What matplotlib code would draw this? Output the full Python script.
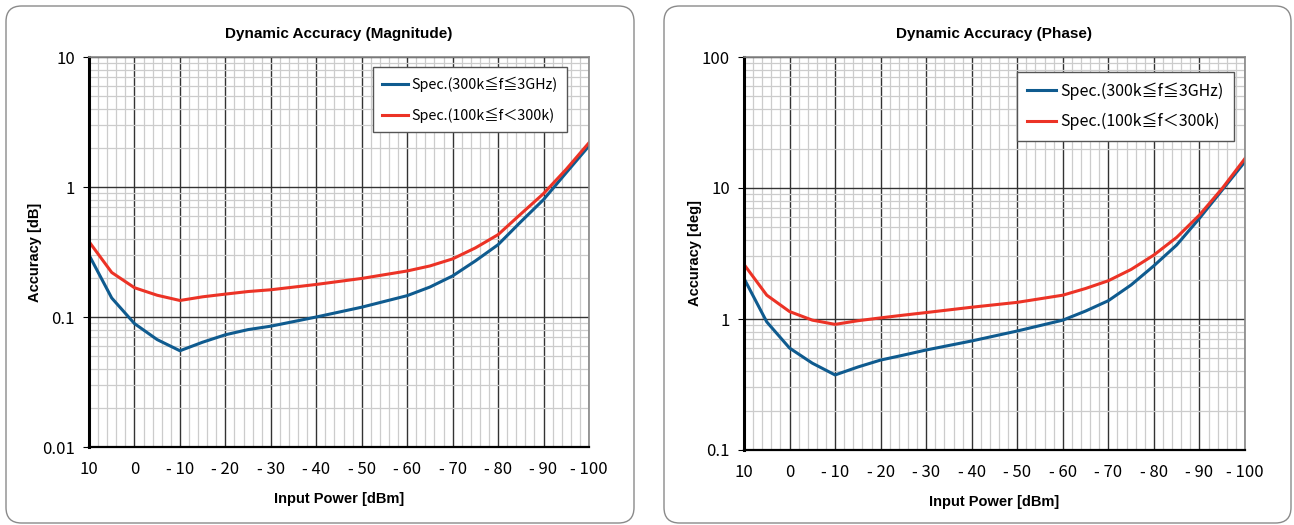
import matplotlib
matplotlib.use('Agg')
import matplotlib.pyplot as plt
from matplotlib.patches import FancyBboxPatch
from matplotlib.ticker import FixedLocator, NullFormatter

# Input power points [dBm]
power = [10, 5, 0, -5, -10, -15, -20, -25, -30, -40, -50, -60, -65, -70, -75, -80, -85, -90, -95, -100]

# Magnitude accuracy [dB]
mag_hi = [0.30, 0.14, 0.089, 0.067, 0.055, 0.064, 0.073, 0.080, 0.085, 0.100, 0.119, 0.146, 0.170, 0.207, 0.27, 0.36, 0.54, 0.80, 1.29, 2.07]
mag_lo = [0.38, 0.22, 0.168, 0.147, 0.134, 0.143, 0.150, 0.157, 0.162, 0.178, 0.198, 0.226, 0.247, 0.28, 0.34, 0.43, 0.62, 0.89, 1.37, 2.19]

# Phase accuracy [deg]
ph_hi = [2.04, 0.95, 0.60, 0.46, 0.374, 0.43, 0.486, 0.53, 0.58, 0.68, 0.81, 0.98, 1.15, 1.38, 1.82, 2.55, 3.67, 5.87, 9.66, 15.9]
ph_lo = [2.61, 1.52, 1.14, 0.98, 0.91, 0.97, 1.02, 1.07, 1.12, 1.23, 1.34, 1.52, 1.71, 1.96, 2.39, 3.08, 4.20, 6.22, 9.93, 16.8]

xticks = [10, 0, -10, -20, -30, -40, -50, -60, -70, -80, -90, -100]
xticklabels = ['10', '0', '- 10', '- 20', '- 30', '- 40', '- 50', '- 60', '- 70', '- 80', '- 90', '- 100']

label_hi = 'Spec.(300k≦f≦3GHz)'
label_lo = 'Spec.(100k≦f＜300k)'

BLUE = '#0f5b8f'
RED = '#ec3326'
W, H = 1294, 525
NARROW = ['Liberation Sans Narrow', 'Noto Sans CJK JP', 'DejaVu Sans']
BOLD = ['Liberation Sans', 'DejaVu Sans']

fig = plt.figure(figsize=(W / 100, H / 100), dpi=100)


def px_box(x0, y0, x1, y1):
    return [x0 / W, 1 - y1 / H, (x1 - x0) / W, (y1 - y0) / H]


def panel(box, axbox, title, ylabel, hi, lo, ylim, yticks, yticklabels,
          leg_anchor, leg_size, leg_spacing):
    # rounded frame round each chart
    b = px_box(*box)
    fig.patches.append(FancyBboxPatch((b[0], b[1]), b[2], b[3],
                                      boxstyle='round,pad=0,rounding_size=0.012',
                                      transform=fig.transFigure, fc='white',
                                      ec='#8a8a8a', lw=1.0, mutation_aspect=W / H,
                                      zorder=-5))
    ax = fig.add_axes(px_box(*axbox))
    ax.set_yscale('log')
    ax.set_xlim(10, -100)
    ax.set_ylim(*ylim)

    ax.set_xticks(xticks)
    ax.set_xticklabels(xticklabels, family=NARROW, fontsize=12)
    ax.xaxis.set_minor_locator(FixedLocator([v for v in range(10, -101, -2) if v % 10 != 0]))
    ax.set_yticks(yticks)
    ax.set_yticklabels(yticklabels, family=NARROW, fontsize=12)
    ax.yaxis.set_minor_formatter(NullFormatter())
    ax.tick_params(axis='x', which='both', length=0, pad=10)
    ax.tick_params(axis='y', which='major', length=4, pad=6)
    ax.tick_params(axis='y', which='minor', length=0)

    ax.grid(True, which='minor', color='#cccccc', lw=0.9)
    ax.grid(True, which='major', color='#333333', lw=1.0)
    ax.set_axisbelow(True)

    for s in ['top', 'right']:
        ax.spines[s].set_color('#888888')
        ax.spines[s].set_linewidth(1.2)
    ax.spines['left'].set_linewidth(2.2)
    ax.spines['bottom'].set_linewidth(1.6)

    ax.plot(power, hi, color=BLUE, lw=2.2, label=label_hi)
    ax.plot(power, lo, color=RED, lw=2.2, label=label_lo)

    ax.set_title(title, fontsize=11, fontweight='bold', family=BOLD, pad=14)
    ax.set_xlabel('Input Power [dBm]', fontsize=10.5, fontweight='bold', family=BOLD, labelpad=10)
    ax.set_ylabel(ylabel, fontsize=10.5, fontweight='bold', family=BOLD, labelpad=0)

    leg = ax.legend(loc='upper right', bbox_to_anchor=leg_anchor, borderaxespad=0,
                    fancybox=False, framealpha=1, edgecolor='#555555',
                    handlelength=1.8, handletextpad=0.25, labelspacing=leg_spacing,
                    borderpad=0.65, prop={'family': NARROW, 'size': leg_size})
    leg.get_frame().set_linewidth(1.0)
    return ax


panel((6, 6, 634, 523), (89, 57, 589, 447), 'Dynamic Accuracy (Magnitude)',
      'Accuracy [dB]', mag_hi, mag_lo, (0.01, 10),
      [0.01, 0.1, 1, 10], ['0.01', '0.1', '1', '10'], (0.956, 0.974), 10.3, 1.1)
panel((664, 6, 1291, 523), (744, 57, 1245, 450), 'Dynamic Accuracy (Phase)',
      'Accuracy [deg]', ph_hi, ph_lo, (0.1, 100),
      [0.1, 1, 10, 100], ['0.1', '1', '10', '100'], (0.978, 0.962), 11.5, 0.8)

fig.savefig('out.png', dpi=100)
